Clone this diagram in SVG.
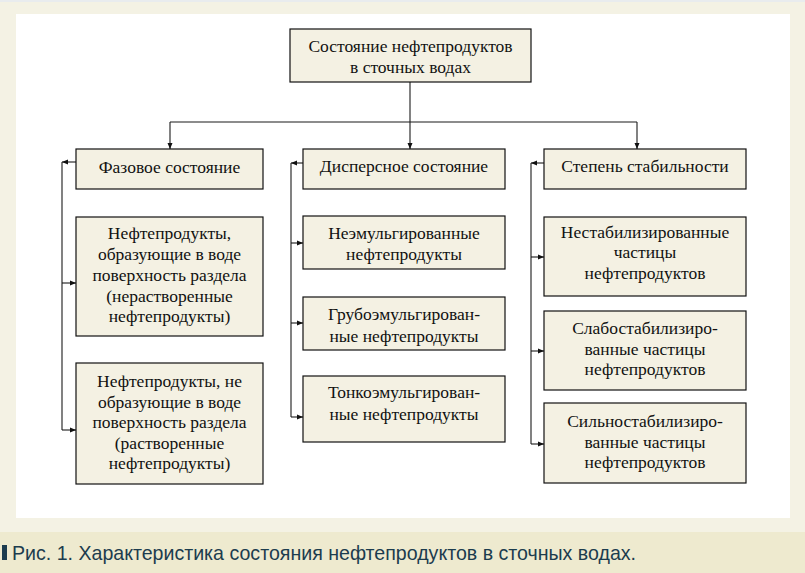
<svg xmlns="http://www.w3.org/2000/svg" width="805" height="573" viewBox="0 0 805 573">
<style>
.box{fill:#f4f1e3;stroke:#111;stroke-width:1.2}
.t{font-family:"Liberation Serif","Times New Roman",serif;font-size:17.5px;fill:#111;text-anchor:middle}
.c{fill:none;stroke:#1a1a1a;stroke-width:1.1}
.cap{font-family:"Liberation Sans",Arial,sans-serif;font-size:21px;fill:#1c3c4e}
</style>
<defs>
<marker id="ah" markerUnits="userSpaceOnUse" markerWidth="7" markerHeight="6" refX="6" refY="3" orient="auto">
<path d="M0,0.5 L6,3 L0,5.5 z" fill="#111"/>
</marker>
</defs>
<rect x="0" y="0" width="805" height="573" fill="#f4f2e4"/>
<rect x="0" y="0" width="805" height="2" fill="#e9ecee"/>
<rect x="16" y="14" width="774" height="504" fill="#ffffff"/>
<rect x="0" y="532" width="805" height="41" fill="#eeeacf"/>
<rect x="2" y="545" width="5" height="15" fill="#1c3c4e"/>
<text class="cap" x="12" y="560" textLength="624" lengthAdjust="spacingAndGlyphs">Рис. 1. Характеристика состояния нефтепродуктов в сточных водах.</text>

<g id="connectors">
<path class="c" d="M410,82 V149" marker-end="url(#ah)"/>
<path class="c" d="M170,122 H637"/>
<path class="c" d="M170,122 V149" marker-end="url(#ah)"/>
<path class="c" d="M637,122 V149" marker-end="url(#ah)"/>
<path class="c" d="M76,162 H62" marker-end="url(#ah)"/>
<path class="c" d="M62,162 V430"/>
<path class="c" d="M62,283 H76" marker-end="url(#ah)"/>
<path class="c" d="M62,430 H76" marker-end="url(#ah)"/>
<path class="c" d="M303,163 H291" marker-end="url(#ah)"/>
<path class="c" d="M291,163 V417"/>
<path class="c" d="M291,243 H303" marker-end="url(#ah)"/>
<path class="c" d="M291,323 H303" marker-end="url(#ah)"/>
<path class="c" d="M291,417 H303" marker-end="url(#ah)"/>
<path class="c" d="M544,163 H531" marker-end="url(#ah)"/>
<path class="c" d="M531,163 V444"/>
<path class="c" d="M531,257 H544" marker-end="url(#ah)"/>
<path class="c" d="M531,351 H544" marker-end="url(#ah)"/>
<path class="c" d="M531,444 H544" marker-end="url(#ah)"/>
</g>

<g id="root">
<rect class="box" x="290" y="29" width="241" height="53"/>
<text class="t" x="410.5" y="52">Состояние нефтепродуктов</text>
<text class="t" x="410.5" y="73">в сточных водах</text>
</g>

<g id="phase">
<rect class="box" x="76" y="149" width="187" height="40"/>
<text class="t" x="169.5" y="173">Фазовое состояние</text>
</g>
<g id="phase-1">
<rect class="box" x="76" y="217" width="187" height="119"/>
<text class="t" x="169.5" y="239">Нефтепродукты,</text>
<text class="t" x="169.5" y="260">образующие в воде</text>
<text class="t" x="169.5" y="281">поверхность раздела</text>
<text class="t" x="169.5" y="302">(нерастворенные</text>
<text class="t" x="169.5" y="322">нефтепродукты)</text>
</g>
<g id="phase-2">
<rect class="box" x="76" y="363" width="187" height="121"/>
<text class="t" x="169.5" y="387">Нефтепродукты, не</text>
<text class="t" x="169.5" y="408">образующие в воде</text>
<text class="t" x="169.5" y="428">поверхность раздела</text>
<text class="t" x="169.5" y="449">(растворенные</text>
<text class="t" x="169.5" y="469">нефтепродукты)</text>
</g>

<g id="disperse">
<rect class="box" x="303" y="149" width="202" height="40"/>
<text class="t" x="404" y="172">Дисперсное состояние</text>
</g>
<g id="disperse-1">
<rect class="box" x="303" y="216" width="202" height="53"/>
<text class="t" x="404" y="239">Неэмульгированные</text>
<text class="t" x="404" y="260">нефтепродукты</text>
</g>
<g id="disperse-2">
<rect class="box" x="303" y="297" width="202" height="53"/>
<text class="t" x="404" y="320">Грубоэмульгирован-</text>
<text class="t" x="404" y="342">ные нефтепродукты</text>
</g>
<g id="disperse-3">
<rect class="box" x="303" y="376" width="202" height="66"/>
<text class="t" x="404" y="398">Тонкоэмульгирован-</text>
<text class="t" x="404" y="420">ные нефтепродукты</text>
</g>

<g id="stability">
<rect class="box" x="544" y="149" width="202" height="40"/>
<text class="t" x="645" y="172">Степень стабильности</text>
</g>
<g id="stability-1">
<rect class="box" x="544" y="217" width="202" height="79"/>
<text class="t" x="645" y="238">Нестабилизированные</text>
<text class="t" x="645" y="258">частицы</text>
<text class="t" x="645" y="279">нефтепродуктов</text>
</g>
<g id="stability-2">
<rect class="box" x="544" y="311" width="202" height="79"/>
<text class="t" x="645" y="334">Слабостабилизиро-</text>
<text class="t" x="645" y="355">ванные частицы</text>
<text class="t" x="645" y="375">нефтепродуктов</text>
</g>
<g id="stability-3">
<rect class="box" x="544" y="403" width="202" height="80"/>
<text class="t" x="645" y="427">Сильностабилизиро-</text>
<text class="t" x="645" y="448">ванные частицы</text>
<text class="t" x="645" y="468">нефтепродуктов</text>
</g>
</svg>
